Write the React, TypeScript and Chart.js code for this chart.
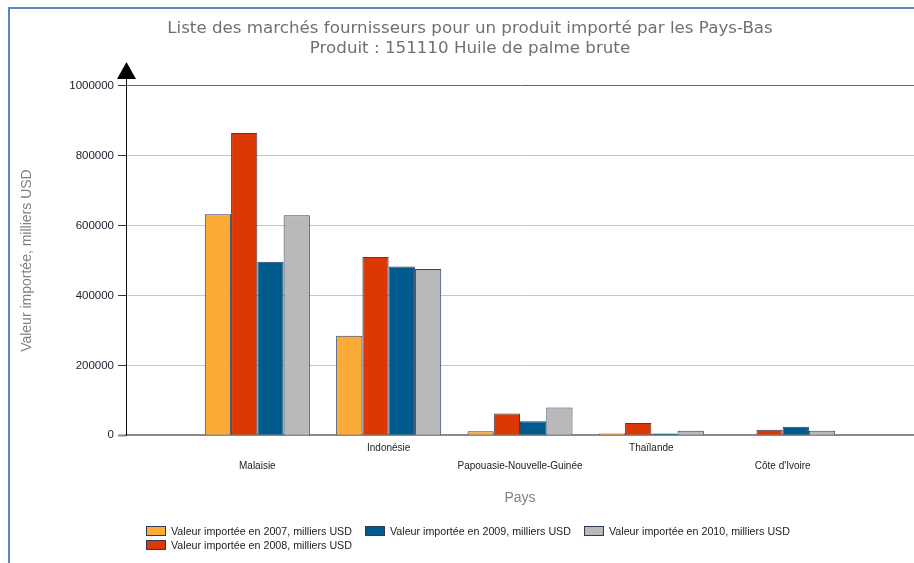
import React, { useEffect, useRef } from 'react';
import { Chart, registerables } from 'chart.js';

Chart.register(...registerables);

const titleLines = [
  'Liste des marchés fournisseurs pour un produit importé par les Pays-Bas',
  'Produit : 151110 Huile de palme brute',
];
const categories = ['Malaisie', 'Indonésie', 'Papouasie-Nouvelle-Guinée', 'Thaïlande', "Côte d'Ivoire"];
const seriesLabels = [
  'Valeur importée en 2007, milliers USD',
  'Valeur importée en 2008, milliers USD',
  'Valeur importée en 2009, milliers USD',
  'Valeur importée en 2010, milliers USD',
];
const values2007 = [633000, 285000, 11500, 5000, 0];
const values2008 = [865000, 510000, 62000, 35000, 15500];
const values2009 = [497000, 483000, 40000, 5000, 24000];
const values2010 = [630000, 476000, 79000, 12500, 12500];
const seriesColors = ['#fcaa38', '#dc3805', '#005a8b', '#b9b9b9'];
const yTickValues = [0, 200000, 400000, 600000, 800000, 1000000];
const yAxisTitle = 'Valeur importée, milliers USD';
const xAxisTitle = 'Pays';
const legendOrder = [0, 2, 3, 1];

const paddedLabels = ['', ...categories, ''];

const arrowPlugin = {
  id: 'yArrow',
  afterDraw(chart: any) {
    const { ctx, chartArea } = chart;
    const x = Math.round(chartArea.left) + 0.5;
    const top = chartArea.top;
    ctx.save();
    ctx.strokeStyle = '#111';
    ctx.lineWidth = 1;
    ctx.beginPath();
    ctx.moveTo(x, top + 1);
    ctx.lineTo(x, top - 8);
    ctx.stroke();
    ctx.fillStyle = '#000';
    ctx.beginPath();
    ctx.moveTo(x, top - 24);
    ctx.lineTo(x - 9.5, top - 7);
    ctx.lineTo(x + 9.5, top - 7);
    ctx.closePath();
    ctx.fill();
    ctx.restore();
  },
};

export default function App() {
  const ref = useRef<HTMLCanvasElement>(null);

  useEffect(() => {
    const series = [values2007, values2008, values2009, values2010];
    const chart = new Chart(ref.current as HTMLCanvasElement, {
      type: 'bar',
      data: {
        labels: paddedLabels,
        datasets: series.map((vals, i) => ({
          label: seriesLabels[i],
          data: [null, ...vals, null],
          backgroundColor: seriesColors[i],
          borderColor: '#2f4466',
          borderWidth: 1,
          categoryPercentage: 0.8,
          barPercentage: 1,
        })),
      },
      options: {
        responsive: false,
        animation: false,
        layout: { padding: { left: 22, right: 0, top: 0, bottom: 52 } },
        plugins: {
          legend: { display: false },
          tooltip: { enabled: false },
          title: {
            display: true,
            text: titleLines,
            color: '#707070',
            font: { family: 'DejaVu Sans', size: 16.7, weight: 'normal', lineHeight: 1.2 },
            padding: { top: 19, bottom: 26.9 },
          },
        },
        scales: {
          x: {
            offset: false,
            grid: { display: false, drawTicks: false },
            border: { display: true, color: '#8a8a8a', width: 2 },
            ticks: {
              autoSkip: false,
              maxRotation: 0,
              minRotation: 0,
              padding: 4,
              color: '#222',
              font: { family: 'Liberation Sans', size: 10, lineHeight: 1.8 },
              callback: (_v: any, i: number) => {
                const l = paddedLabels[i];
                return i % 2 === 1 ? ['', l] : l;
              },
            },
            title: {
              display: true,
              text: xAxisTitle,
              color: '#808080',
              font: { family: 'Liberation Sans', size: 14, lineHeight: 1.2 },
              padding: { top: 11, bottom: 4 },
            },
          },
          y: {
            min: 0,
            max: 1000000,
            afterBuildTicks: (s: any) => {
              s.ticks = yTickValues.map((v) => ({ value: v }));
            },
            afterFit: (s: any) => {
              s.width = 104;
            },
            border: { display: true, color: '#111', width: 1 },
            grid: {
              color: (c: any) => (c.tick && c.tick.value === 1000000 ? '#4f6b8f' : '#c6c6c6'),
              tickColor: (c: any) => (c.tick && c.tick.value === 0 ? '#8a8a8a' : '#333'),
              tickWidth: (c: any) => (c.tick && c.tick.value === 0 ? 2 : 1),
              tickLength: 8,
              lineWidth: 1,
            },
            ticks: {
              color: '#1c1c2c',
              padding: 4,
              font: { family: 'Liberation Sans', size: 11.5 },
              callback: (v: any) => String(v),
            },
            title: {
              display: true,
              text: yAxisTitle,
              color: '#808080',
              font: { family: 'Liberation Sans', size: 14, lineHeight: 1.2 },
              padding: { top: -3.4, bottom: 0 },
            },
          },
        },
      } as any,
      plugins: [arrowPlugin],
    });
    return () => chart.destroy();
  }, []);

  return (
    <div style={{ position: 'absolute', left: 0, top: 0, width: 914, height: 563, overflow: 'hidden', background: '#fff' }}>
      <canvas ref={ref} width={918} height={563} style={{ display: 'block', position: 'absolute', left: 0, top: 0 }} />
      <div
        style={{
          position: 'absolute',
          left: 8,
          top: 7,
          width: 920,
          height: 570,
          borderLeft: '2px solid #5b87c5',
          borderTop: '2px solid #5b87c5',
          pointerEvents: 'none',
        }}
      />
      <div
        style={{
          position: 'absolute',
          left: 146,
          top: 524,
          display: 'grid',
          gridTemplateColumns: 'repeat(3, 219px)',
          gridAutoRows: '14px',
          font: '10.7px "Liberation Sans", Arial, sans-serif',
          color: '#222',
        }}
      >
        {legendOrder.map((i) => (
          <div key={i} style={{ display: 'flex', alignItems: 'center', whiteSpace: 'nowrap' }}>
            <span
              style={{
                display: 'inline-block',
                width: 18,
                height: 8,
                border: '1px solid #2b3b5b',
                background: seriesColors[i],
                marginRight: 5,
                flex: '0 0 auto',
              }}
            />
            <span>{seriesLabels[i]}</span>
          </div>
        ))}
      </div>
    </div>
  );
}
